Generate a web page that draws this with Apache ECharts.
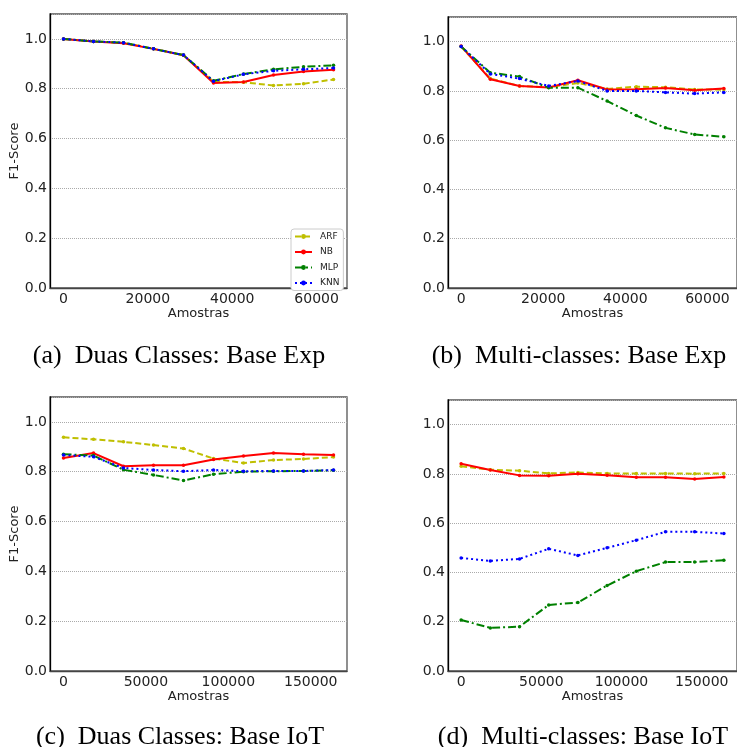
<!DOCTYPE html>
<html lang="pt">
<head>
<meta charset="UTF-8" />
<script src="https://cdn.jsdelivr.net/npm/echarts@6/dist/echarts.min.js"></script>
<title>F1-Score</title>
</head>
<body style="margin:0;background:#fff">
<div id="main" style="width:737px;height:747px"></div>
<script type="text/javascript">
// amostras (eixo x)
const expX = [0, 7111, 14222, 21333, 28444, 35556, 42667, 49778, 56889, 64000];
const iotX = [0, 18200, 36400, 54600, 72800, 91000, 109200, 127400, 145600, 163800];
const expTicks = [0, 20000, 40000, 60000];
const iotTicks = [0, 50000, 100000, 150000];

// (a) Duas Classes: Base Exp
const aARF = [1.0, 0.99, 0.985, 0.96, 0.935, 0.828, 0.826, 0.813, 0.82, 0.837];
const aNB = [1.0, 0.99, 0.983, 0.96, 0.934, 0.823, 0.827, 0.855, 0.869, 0.876];
const aMLP = [1.0, 0.99, 0.985, 0.96, 0.935, 0.832, 0.859, 0.878, 0.888, 0.894];
const aKNN = [1.0, 0.99, 0.985, 0.96, 0.935, 0.83, 0.858, 0.872, 0.878, 0.883];

// (b) Multi-classes: Base Exp
const bARF = [0.98, 0.85, 0.82, 0.815, 0.832, 0.808, 0.817, 0.815, 0.806, 0.805];
const bNB = [0.982, 0.847, 0.82, 0.814, 0.843, 0.806, 0.807, 0.812, 0.803, 0.81];
const bMLP = [0.98, 0.874, 0.858, 0.813, 0.813, 0.759, 0.7, 0.65, 0.623, 0.614];
const bKNN = [0.98, 0.869, 0.85, 0.82, 0.84, 0.8, 0.8, 0.794, 0.789, 0.794];

// (c) Duas Classes: Base IoT
const cARF = [0.938, 0.93, 0.92, 0.907, 0.893, 0.853, 0.835, 0.847, 0.851, 0.859];
const cNB = [0.855, 0.875, 0.822, 0.826, 0.826, 0.849, 0.863, 0.875, 0.87, 0.867];
const cMLP = [0.87, 0.865, 0.808, 0.787, 0.765, 0.79, 0.8, 0.802, 0.803, 0.806];
const cKNN = [0.867, 0.86, 0.815, 0.807, 0.802, 0.807, 0.802, 0.803, 0.803, 0.807];

// (d) Multi-classes: Base IoT
const dARF = [0.831, 0.817, 0.813, 0.802, 0.806, 0.802, 0.802, 0.802, 0.801, 0.802];
const dNB = [0.841, 0.816, 0.794, 0.793, 0.801, 0.795, 0.786, 0.786, 0.779, 0.787];
const dMLP = [0.207, 0.175, 0.18, 0.268, 0.278, 0.347, 0.405, 0.442, 0.442, 0.45];
const dKNN = [0.459, 0.447, 0.455, 0.496, 0.469, 0.5, 0.531, 0.565, 0.565, 0.558];

const captions = [
	'(a)  Duas Classes: Base Exp',
	'(b)  Multi-classes: Base Exp',
	'(c)  Duas Classes: Base IoT',
	'(d)  Multi-classes: Base IoT',
];

const styles = {
	ARF: { color: '#bfbf00', type: [6, 3] },
	NB: { color: '#ff0000', type: 'solid' },
	MLP: { color: '#008000', type: [8, 3, 2, 3] },
	KNN: { color: '#0000ff', type: [2, 3] },
};

const panels = [
	{ x: expX, ticks: expTicks, min: -3200, max: 67200, data: { ARF: aARF, NB: aNB, MLP: aMLP, KNN: aKNN }, grid: { left: 50, top: 14, width: 297, height: 274 }, yName: 'F1-Score' },
	{ x: expX, ticks: expTicks, min: -3200, max: 67200, data: { ARF: bARF, NB: bNB, MLP: bMLP, KNN: bKNN }, grid: { left: 448, top: 17, width: 296, height: 271 }, yName: '' },
	{ x: iotX, ticks: iotTicks, min: -8190, max: 171990, data: { ARF: cARF, NB: cNB, MLP: cMLP, KNN: cKNN }, grid: { left: 50, top: 397, width: 297, height: 274 }, yName: 'F1-Score' },
	{ x: iotX, ticks: iotTicks, min: -8190, max: 171990, data: { ARF: dARF, NB: dNB, MLP: dMLP, KNN: dKNN }, grid: { left: 448, top: 400, width: 296, height: 271 }, yName: '' },
];
const captionPos = [[174, 338], [574, 338], [175, 719], [578, 719]];

const font = 'DejaVu Sans';
const grid = [], xAxis = [], yAxis = [], series = [], title = [];

panels.forEach((p, i) => {
	grid.push(Object.assign({ show: true, borderColor: '#555', borderWidth: 1.3, backgroundColor: 'transparent' }, p.grid));
	xAxis.push({
		type: 'value',
		gridIndex: i,
		min: p.min,
		max: p.max,
		name: 'Amostras',
		nameLocation: 'middle',
		nameGap: 16,
		nameTextStyle: { fontFamily: font, fontSize: 13, color: '#222' },
		axisLine: { onZero: false, lineStyle: { color: '#444', width: 1.3 } },
		axisTick: { show: false },
		axisLabel: { customValues: p.ticks, margin: 4, fontFamily: font, fontSize: 14, color: '#222', formatter: v => String(v) },
		splitLine: { show: false },
	});
	yAxis.push({
		type: 'value',
		gridIndex: i,
		min: 0,
		max: 1.1,
		interval: 0.2,
		name: p.yName,
		nameLocation: 'middle',
		nameGap: 28,
		nameTextStyle: { fontFamily: font, fontSize: 13, color: '#222' },
		axisLine: { show: true, onZero: false, lineStyle: { color: '#000', width: 1.3 } },
		axisTick: { show: false },
		axisLabel: {
			margin: 3,
			fontFamily: font,
			fontSize: 14,
			color: '#222',
			formatter: v => (v > 1.05 ? '' : v.toFixed(1)),
		},
		splitLine: { show: true, lineStyle: { color: '#aaa', type: [1, 1], width: 1 } },
	});
	Object.keys(p.data).forEach(name => {
		const s = styles[name];
		series.push({
			name,
			type: 'line',
			xAxisIndex: i,
			yAxisIndex: i,
			symbol: 'circle',
			symbolSize: 3.5,
			showSymbol: true,
			itemStyle: { color: s.color },
			lineStyle: { color: s.color, width: 2, type: s.type },
			emphasis: { disabled: true },
			animation: false,
			data: p.x.map((x, k) => [x, p.data[name][k]]),
		});
	});
	title.push({
		text: captions[i],
		left: captionPos[i][0],
		top: captionPos[i][1],
		textAlign: 'center',
		textStyle: { fontFamily: 'Liberation Serif', fontSize: 26, fontWeight: 'normal', color: '#000' },
	});
});

const mainChart = echarts.init(document.getElementById('main'));
mainChart.setOption({
	animation: false,
	title,
	legend: {
		data: ['ARF', 'NB', 'MLP', 'KNN'],
		orient: 'vertical',
		left: 291,
		top: 229,
		itemWidth: 17,
		itemHeight: 6,
		itemGap: 6.5,
		padding: [3, 4, 3, 3],
		borderColor: '#ccc',
		borderWidth: 1,
		borderRadius: 3,
		backgroundColor: '#fff',
		textStyle: { fontFamily: font, fontSize: 9, color: '#222', padding: [0, 0, 0, 3] },
	},
	grid,
	xAxis,
	yAxis,
	series,
});
</script>
</body>
</html>
